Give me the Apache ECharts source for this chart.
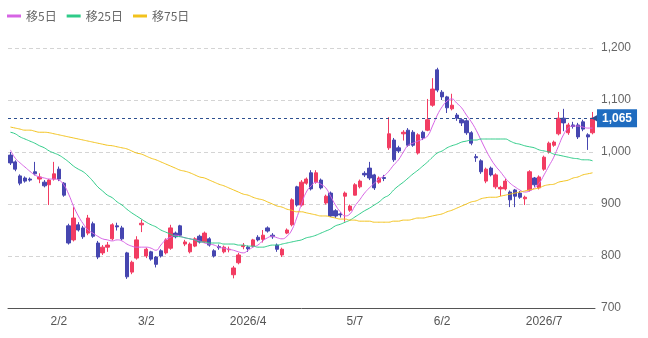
<!DOCTYPE html>
<html>
<head>
<meta charset="utf-8">
<script src="https://cdn.jsdelivr.net/npm/echarts@6/dist/echarts.min.js"></script>
<style>
  html, body { margin: 0; padding: 0; background: #fff; }
  #chart { width: 648px; height: 338px; }
</style>
</head>
<body>
<div id="chart"></div>
<script>
// 営業日 (2026/1/19 - 2026/7/15)
const dates = [
  '1/19','1/20','1/21','1/22','1/23','1/26','1/27','1/28','1/29','1/30',
  '2/2','2/3','2/4','2/5','2/6','2/9','2/10','2/12','2/13','2/16','2/17','2/18','2/19','2/20','2/24','2/25','2/26','2/27',
  '3/2','3/3','3/4','3/5','3/6','3/9','3/10','3/11','3/12','3/13','3/16','3/17','3/18','3/19','3/23','3/24','3/25','3/26','3/27','3/30','3/31',
  '4/1','4/2','4/3','4/6','4/7','4/8','4/9','4/10','4/13','4/14','4/15','4/16','4/17','4/20','4/21','4/22','4/23','4/24','4/27','4/28','4/30',
  '5/1','5/7','5/8','5/11','5/12','5/13','5/14','5/15','5/18','5/19','5/20','5/21','5/22','5/25','5/26','5/27','5/28','5/29',
  '6/1','6/2','6/3','6/4','6/5','6/8','6/9','6/10','6/11','6/12','6/15','6/16','6/17','6/18','6/19','6/22','6/23','6/24','6/25','6/26','6/29','6/30',
  '7/1','7/2','7/3','7/6','7/7','7/8','7/9','7/10','7/13','7/14','7/15'
];

const openP = [
  994,981,954,950,948,962,948,942,937,948, 967,940,858,831,860,854,844,862,825,806,
  817,833,858,854,806,769,796,860,800,808, 798,810,806,815,844,858,823,808,819,838,
  827,833,810,818,808,812,764,787,818,817, 819,836,832,854,840,821,802,844,860,933,
  898,940,960,942,946,902,921,887,881,915, 888,917,933,959,969,956,942,951,1008,1023,
  1008,1035,1042,1038,998,1038,1042,1090,1158,1115, 1106,1083,1071,1062,1060,1037,991,983,944,969,
  933,929,929,923,927,921,910,927,950,931, 967,1000,1013,1035,1065,1037,1052,1052,1058,1033,
  1037
];
const closeP = [
  979,967,940,944,946,958,952,935,946,958, 948,917,825,873,850,837,873,838,798,817,
  821,860,856,833,760,788,831,863,813,794, 784,800,831,854,837,840,827,823,833,827,
  844,821,800,816,817,813,777,802,820,814, 831,831,840,848,837,813,813,850,908,898,
  942,948,929,960,931,915,877,877,879,921, 896,937,944,956,950,931,950,949,1035,985,
  1002,1038,1013,1013,1033,1027,1062,1121,1119,1106, 1085,1090,1065,1056,1037,1017,989,962,967,956,
  956,932,944,908,915,913,913,962,937,952, 990,1017,1019,1065,1056,1052,1049,1029,1044,1029,
  1065
];
const lowP = [
  975,963,936,941,943,955,940,932,898,945, 944,914,822,828,847,833,840,835,794,802,
  808,830,849,830,756,765,793,846,796,791, 778,797,803,812,834,837,819,805,817,824,
  825,818,797,812,805,807,757,784,813,808, 817,828,826,845,833,808,798,842,857,895,
  895,937,926,939,928,899,875,873,874,866, 885,918,930,952,946,927,939,944,1004,981,
  998,1022,1010,1010,995,1023,1040,1087,1115,1100, 1075,1080,1060,1050,1033,1013,981,958,940,953,
  929,915,926,894,894,910,898,924,933,928, 964,997,1010,1032,1040,1033,1045,1025,1040,1004,
  1034
];
const highP = [
  1000,984,957,953,951,981,959,946,948,981, 972,942,862,894,865,858,879,866,829,821,
  827,863,864,858,808,791,838,870,816,810, 800,813,834,860,847,860,831,826,836,841,
  847,836,813,822,820,818,781,806,825,820, 833,840,850,857,844,824,816,853,911,935,
  946,951,965,965,949,918,924,890,884,924, 899,940,947,963,981,958,953,956,1067,1027,
  1012,1042,1046,1042,1036,1041,1102,1142,1162,1119, 1108,1112,1075,1065,1063,1040,996,986,970,972,
  959,935,948,926,929,925,916,965,952,955, 993,1020,1022,1077,1083,1056,1058,1056,1062,1036,
  1077
];

// 移動平均 (チャートから読み取り)
const ma5 = [
  1004,988,979,971,963,956,952,950,948,948, 946,937,919,896,877,862,850,844,838,833,
  831,829,831,829,823,819,817,817,817,815, 811,821,831,836,840,838,835,833,831,829,
  825,823,821,817,815,813,811,808,806,811, 817,821,829,835,838,835,833,838,850,873,
  900,923,935,942,938,931,915,898,885,877, 881,896,908,921,931,940,948,954,963,975,
  985,1000,1013,1017,1021,1025,1031,1050,1071,1087, 1098,1102,1094,1085,1071,1058,1042,1023,1004,987,
  973,962,950,940,933,927,923,925,931,940, 956,973,990,1012,1033,1046,1050,1050,1048,1046,
  1046
];
const ma25 = [
  1038,1035,1029,1025,1021,1017,1012,1008,1002,998, 994,988,981,973,967,962,954,944,933,925,
  917,912,904,898,890,883,877,871,865,860, 856,850,846,842,838,837,835,833,831,827,
  827,825,825,825,823,823,823,821,821,819, 819,817,817,819,821,821,823,825,827,829,
  831,835,837,840,844,848,852,858,861,865, 869,875,881,887,892,898,904,912,917,927,
  935,942,950,958,965,973,981,990,998,1002, 1008,1012,1015,1019,1021,1023,1023,1025,1025,1025,
  1025,1025,1025,1021,1017,1015,1012,1010,1008,1004, 1002,1000,996,994,992,990,988,987,985,985,
  983
];
const ma75 = [
  1048,1046,1044,1042,1042,1040,1038,1038,1037,1035, 1033,1031,1029,1027,1025,1023,1021,1019,1017,1015,
  1013,1012,1010,1008,1006,1002,998,996,992,988, 985,981,977,973,969,965,963,960,956,952,
  950,946,942,938,935,931,927,923,919,917, 913,910,908,904,900,896,894,890,888,885,
  885,883,881,879,877,877,875,873,871,871, 869,869,867,867,867,865,865,865,865,867,
  867,869,869,871,873,873,875,877,879,881, 885,888,892,896,900,904,906,910,912,913,
  913,915,917,919,921,923,925,927,929,931, 935,937,938,942,944,946,950,952,956,958,
  960
];

const tickDates = ['2/2', '3/2', '4/1', '5/7', '6/2', '7/1'];
const tickTexts = ['2/2', '3/2', '2026/4', '5/7', '6/2', '2026/7'];

const candles = dates.map((d, i) => [openP[i], closeP[i], lowP[i], highP[i]]);
const lastPrice = closeP[closeP.length - 1];

const chart = echarts.init(document.getElementById('chart'));
const fontFamily = "'Liberation Sans', 'Noto Sans CJK JP', sans-serif";

chart.setOption({
  animation: false,
  textStyle: { fontFamily: fontFamily },
  legend: {
    left: 2,
    top: 5,
    itemWidth: 14,
    itemHeight: 3,
    itemGap: 10,
    icon: 'rect',
    textStyle: { color: '#666', fontSize: 12, fontFamily: "'Noto Sans CJK JP', sans-serif" },
    data: ['移5日', '移25日', '移75日']
  },
  grid: { left: 8, right: 53, top: 48, bottom: 30 },
  xAxis: {
    type: 'category',
    data: dates,
    boundaryGap: true,
    axisLine: { lineStyle: { color: '#555' } },
    axisTick: { show: false },
    splitLine: { show: false },
    axisLabel: {
      color: '#555',
      fontSize: 12,
      margin: 8,
      interval: (idx, val) => tickDates.includes(val),
      formatter: val => tickTexts[tickDates.indexOf(val)]
    }
  },
  yAxis: {
    type: 'value',
    position: 'right',
    min: 700,
    max: 1200,
    interval: 100,
    axisLine: { show: false },
    axisTick: { show: false },
    splitLine: { lineStyle: { color: '#d4d4d4', type: [4, 3] } },
    axisLabel: {
      color: '#666',
      fontSize: 12,
      margin: 6,
      formatter: v => v.toLocaleString('en-US')
    }
  },
  series: [
    {
      name: '株価',
      type: 'candlestick',
      data: candles,
      barWidth: '78%',
      itemStyle: {
        color: '#f23c62',
        color0: '#4646b0',
        borderColor: '#f23c62',
        borderColor0: '#4646b0',
        borderWidth: 1
      },
      markLine: {
        silent: true,
        symbol: ['none', 'triangle'],
        symbolSize: [8, 7],
        symbolRotate: [0, 90],
        lineStyle: { color: '#2d4f8f', type: [3, 3], width: 1 },
        label: {
          position: 'end',
          distance: 2,
          formatter: () => lastPrice.toLocaleString('en-US'),
          color: '#fff',
          fontSize: 12,
          fontWeight: 'bold',
          backgroundColor: '#1f6cc0',
          padding: [3, 5]
        },
        data: [{ yAxis: lastPrice, itemStyle: { color: '#1f6cc0' } }]
      }
    },
    {
      name: '移5日', type: 'line', data: ma5, smooth: true, showSymbol: false,
      lineStyle: { width: 1, color: '#d664e4' }, itemStyle: { color: '#d664e4' }
    },
    {
      name: '移25日', type: 'line', data: ma25, smooth: true, showSymbol: false,
      lineStyle: { width: 1, color: '#2fcb88' }, itemStyle: { color: '#2fcb88' }
    },
    {
      name: '移75日', type: 'line', data: ma75, smooth: true, showSymbol: false,
      lineStyle: { width: 1, color: '#f2c21c' }, itemStyle: { color: '#f2c21c' }
    }
  ]
});
</script>
</body>
</html>
